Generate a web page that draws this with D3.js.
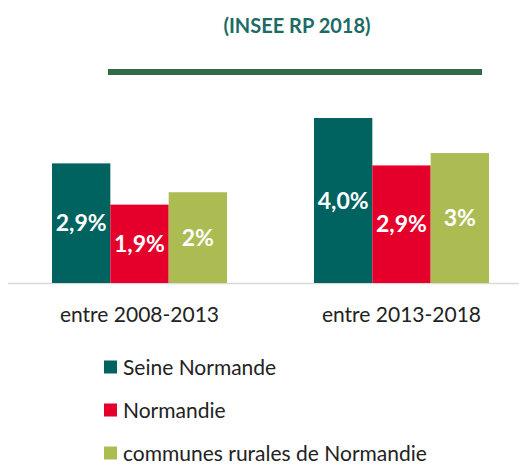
<!DOCTYPE html>
<html>
<head>
<meta charset="utf-8">
<script src="https://cdn.jsdelivr.net/npm/d3@7"></script>
<style>
  body { margin: 0; background: #fff; }
  svg text { font-family: Lato, "Open Sans", sans-serif; }
</style>
</head>
<body>
<div class="chart_container"></div>
<script>
// data
var periods = ["entre 2008-2013", "entre 2013-2018"];
var seriesNames = ["Seine Normande", "Normandie", "communes rurales de Normandie"];
var seineNormande = [2.9, 4.0];
var normandie = [1.9, 2.85];
var communesRurales = [2.2, 3.15];
var seineLabels = ["2,9%", "4,0%"];
var normandieLabels = ["1,9%", "2,9%"];
var ruralesLabels = ["2%", "3%"];
var colors = ["#00635f", "#e4002b", "#acbc53"];
var title = "(INSEE RP 2018)";

var W = 519, H = 467;
var svg = d3.select(".chart_container").append("svg")
    .attr("width", W)
    .attr("height", H);

var series = [seineNormande, normandie, communesRurales];
var labels = [seineLabels, normandieLabels, ruralesLabels];

var rows = [];
periods.forEach(function(p, i) {
    seriesNames.forEach(function(s, j) {
        rows.push({period: p, name: s, value: series[j][i], label: labels[j][i], color: colors[j]});
    });
});

var baseline = 283;
var x0 = d3.scaleBand().domain(periods).range([52, 489]).paddingInner(0.332).paddingOuter(0);
var x1 = d3.scaleBand().domain(seriesNames).range([0, x0.bandwidth()]);
var y = d3.scaleLinear().domain([0, 4]).range([baseline, 118]);

// title
svg.append("text")
    .attr("x", 297)
    .attr("y", 33)
    .attr("text-anchor", "middle")
    .style("font-size", "20px")
    .style("font-weight", "bold")
    .style("fill", "#1d6b66")
    .text(title);

// decorative rule
svg.append("line")
    .attr("x1", 108).attr("x2", 482)
    .attr("y1", 72).attr("y2", 72)
    .style("stroke", "#2f6b47")
    .style("stroke-width", 6);

// axis line
svg.append("line")
    .attr("x1", 8).attr("x2", 519)
    .attr("y1", baseline + 0.5).attr("y2", baseline + 0.5)
    .style("stroke", "#d9d9d9")
    .style("stroke-width", 1.5);

var bars = svg.append("g").selectAll("g")
    .data(rows)
    .enter().append("g");

bars.append("rect")
    .attr("x", d => x0(d.period) + x1(d.name))
    .attr("y", d => y(d.value))
    .attr("width", x1.bandwidth())
    .attr("height", d => baseline - y(d.value))
    .style("fill", d => d.color);

bars.append("text")
    .attr("x", d => x0(d.period) + x1(d.name) + x1.bandwidth() / 2)
    .attr("y", d => (y(d.value) + baseline) / 2)
    .attr("dy", "0.36em")
    .attr("text-anchor", "middle")
    .style("font-size", "23px")
    .style("font-weight", "bold")
    .style("fill", "#fff")
    .text(d => d.label);

// category labels
svg.append("g").selectAll("text")
    .data(periods)
    .enter().append("text")
    .attr("x", d => x0(d) + x0.bandwidth() / 2)
    .attr("y", 322)
    .attr("text-anchor", "middle")
    .style("font-size", "21px")
    .style("fill", "#222")
    .text(d => d);

// legend
var legend = svg.append("g").selectAll("g")
    .data(seriesNames)
    .enter().append("g")
    .attr("transform", (d, i) => "translate(104," + (367 + i * 43) + ")");

legend.append("rect")
    .attr("x", 0).attr("y", -6.5)
    .attr("width", 13).attr("height", 13)
    .style("fill", (d, i) => colors[i]);

legend.append("text")
    .attr("x", 19)
    .attr("y", 0)
    .attr("dy", "0.36em")
    .style("font-size", "21px")
    .style("fill", "#222")
    .text(d => d);
</script>
</body>
</html>
